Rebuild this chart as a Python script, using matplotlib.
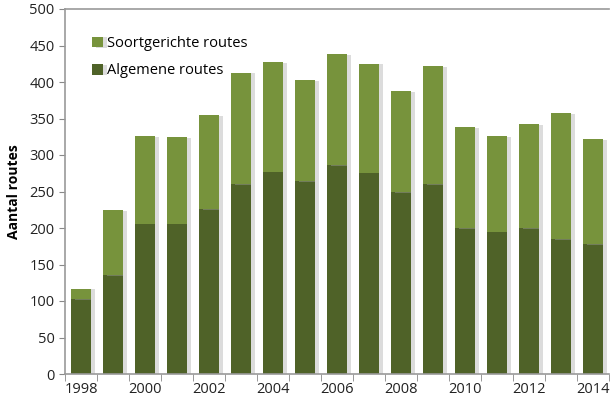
import numpy as np
import matplotlib.pyplot as plt
import matplotlib.patheffects as pe

# gegevens
jaren = list(range(1998, 2015))
algemeen = [103, 135, 206, 206, 226, 260, 277, 264, 286, 276, 249, 260, 200, 195, 200, 185, 178]
totaal = [117, 224, 326, 324, 355, 413, 427, 403, 438, 425, 387, 422, 338, 326, 342, 357, 322]
soortgericht = [t - a for t, a in zip(totaal, algemeen)]
ytick_waarden = [0, 50, 100, 150, 200, 250, 300, 350, 400, 450, 500]

plt.rcParams['font.family'] = ['Open Sans', 'DejaVu Sans']

fig = plt.figure(figsize=(6.11, 4.03), dpi=100)
ax = fig.add_axes([65 / 611, 1 - 374 / 403, 544 / 611, 365 / 403])

x = np.arange(len(jaren))
schaduw = [pe.SimplePatchShadow(offset=(3, -0.5), shadow_rgbFace='#a8a8a8', alpha=0.4), pe.Normal()]

b1 = ax.bar(x, algemeen, width=0.63, color='#4F6228', label='Algemene routes', zorder=2)
b2 = ax.bar(x, soortgericht, bottom=algemeen, width=0.63, color='#77933C', label='Soortgerichte routes', zorder=2)
for b in list(b1) + list(b2):
    b.set_path_effects(schaduw)

ax.set_xlim(-0.5, len(jaren) - 0.5)
ax.set_ylim(0, 500)
ax.set_yticks(ytick_waarden)
ax.tick_params(axis='y', labelsize=10.5, length=4, colors='#888888', labelcolor='#222222')

# jaarlabels om de twee jaar, streepjes tussen de staven
ax.set_xticks(x[::2])
ax.set_xticklabels([str(j) for j in jaren[::2]], fontsize=10.5, color='#222222')
ax.tick_params(axis='x', which='major', length=0, pad=6)
ax.set_xticks(np.arange(-0.5, len(jaren)), minor=True)
ax.tick_params(axis='x', which='minor', length=5, color='#888888')

for s in ax.spines.values():
    s.set_color('#999999')
    s.set_linewidth(1.2)
ax.spines['right'].set_visible(False)

ax.set_ylabel('Aantal routes', fontsize=10, fontweight='bold', labelpad=6)

h, l = ax.get_legend_handles_labels()
ax.legend([h[1], h[0]], [l[1], l[0]], loc='upper left', bbox_to_anchor=(0.026, 0.962),
          frameon=False, fontsize=10.5, handlelength=0.75, handleheight=0.75,
          handletextpad=0.25, labelspacing=0.85)

fig.savefig('out.png', dpi=100)
